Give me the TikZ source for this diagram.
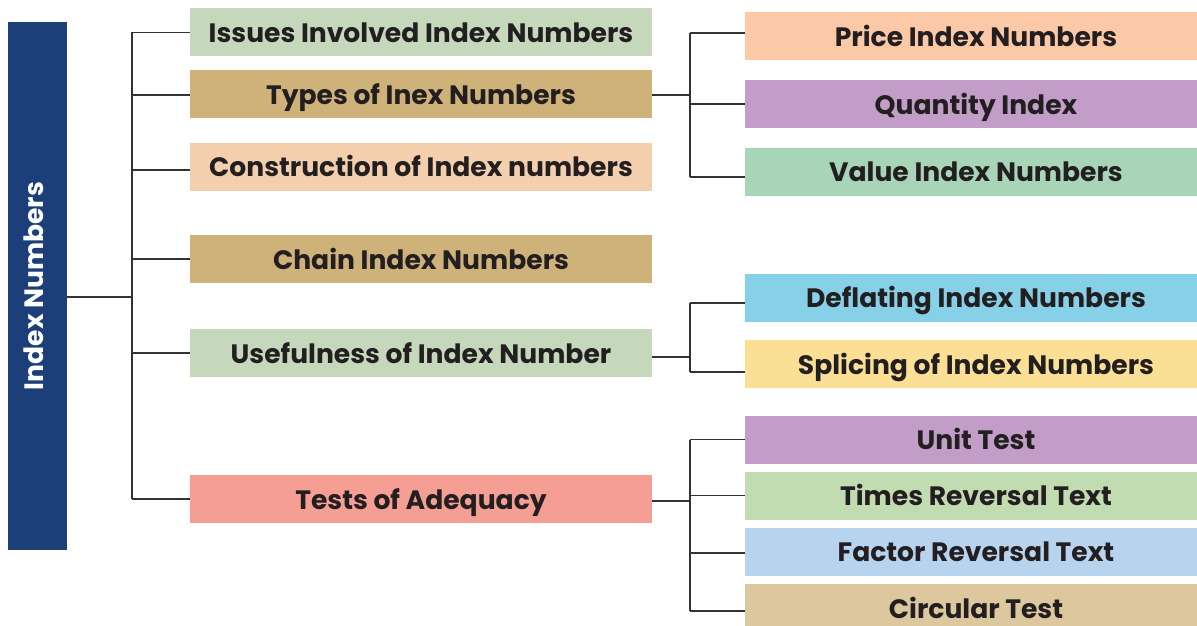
\documentclass[tikz,border=0pt]{standalone}
\usepackage{fontspec}
\setmainfont{Poppins}
\usetikzlibrary{positioning}

\definecolor{rootblue}{HTML}{1C3F7A}
\definecolor{txtdark}{HTML}{231F20}
\definecolor{linegrey}{HTML}{333333}
\definecolor{sage}{HTML}{C5D8BC}
\definecolor{tan}{HTML}{CEB27A}
\definecolor{peach}{HTML}{F3CFAE}
\definecolor{salmon}{HTML}{F59E93}
\definecolor{apricot}{HTML}{FBC8A8}
\definecolor{lilac}{HTML}{C29DC7}
\definecolor{mint}{HTML}{A8D4B8}
\definecolor{sky}{HTML}{86D0E8}
\definecolor{butter}{HTML}{FBDF95}
\definecolor{leafgreen}{HTML}{C2DCB2}
\definecolor{paleblue}{HTML}{B8D3EE}
\definecolor{sand}{HTML}{DCC79E}

\tikzset{
  topicbox/.style={minimum width=462pt, minimum height=48pt, inner sep=0pt,
    text height=20pt, text depth=0pt,
    text=txtdark, font=\fontsize{26.6}{30}\selectfont\bfseries},
  link/.style={draw=linegrey, line width=1.3pt}
}

\begin{document}
\begin{tikzpicture}[x=1pt,y=-1pt]
\useasboundingbox (0,0) rectangle (1197,626);

% root bar
\node[rotate=90, fill=rootblue, text=white, minimum width=528pt, minimum height=59pt,
  inner sep=0pt, text height=11pt, text depth=0pt,
  font=\fontsize{26.6}{30}\selectfont\bfseries] (root) at (37.5,286) {Index Numbers};

% second level
\node[topicbox, fill=sage] (issues) at (421,32.5) {Issues Involved Index Numbers};
\node[topicbox, fill=tan] (types) at (421,94) {Types of Inex Numbers};
\node[topicbox, fill=peach] (constr) at (421,166.5) {Construction of Index numbers};
\node[topicbox, fill=tan] (chain) at (421,259) {Chain Index Numbers};
\node[topicbox, fill=sage] (useful) at (421,353) {Usefulness of Index Number};
\node[topicbox, fill=salmon] (tests) at (421,499) {Tests of Adequacy};

% third level
\node[topicbox, fill=apricot] (price) at (976,36.5) {Price Index Numbers};
\node[topicbox, fill=lilac] (quantity) at (976,104) {Quantity Index};
\node[topicbox, fill=mint] (value) at (976,171.5) {Value Index Numbers};
\node[topicbox, fill=sky] (deflating) at (976,297.5) {Deflating Index Numbers};
\node[topicbox, fill=butter] (splicing) at (976,364) {Splicing of Index Numbers};
\node[topicbox, fill=lilac] (unit) at (976,439.5) {Unit Test};
\node[topicbox, fill=leafgreen] (times) at (976,495.5) {Times Reversal Text};
\node[topicbox, fill=paleblue] (factor) at (976,551.5) {Factor Reversal Text};
\node[topicbox, fill=sand] (circular) at (976,608) {Circular Test};

% bus lines
\coordinate (mainbus) at (132,297);
\coordinate (subbus) at (690,0);

\draw[link] (root.south |- mainbus) -- (mainbus);
\draw[link] (issues.west -| mainbus) -- (tests.west -| mainbus);
\foreach \n/\dy in {issues/0,types/-1,constr/-3.5,chain/0,useful/0,tests/0}
  \draw[link] ([yshift=\dy pt]\n.west) -- ([yshift=\dy pt]\n.west -| mainbus);

% types branch
\draw[link] ([yshift=-1pt]types.east) -- ([yshift=-1pt]types.east -| subbus);
\draw[link] ([yshift=3.5pt]price.west -| subbus) -- ([yshift=-5.5pt]value.west -| subbus);
\foreach \n/\dy in {price/3.5,quantity/0,value/-5.5}
  \draw[link] ([yshift=\dy pt]\n.west) -- ([yshift=\dy pt]\n.west -| subbus);

% usefulness branch
\draw[link] ([yshift=-4pt]useful.east) -- ([yshift=-4pt]useful.east -| subbus);
\draw[link] ([yshift=-5.5pt]deflating.west -| subbus) -- ([yshift=-8pt]splicing.west -| subbus);
\foreach \n/\dy in {deflating/-5.5,splicing/-8}
  \draw[link] ([yshift=\dy pt]\n.west) -- ([yshift=\dy pt]\n.west -| subbus);

% tests branch
\draw[link] ([yshift=-2pt]tests.east) -- ([yshift=-2pt]tests.east -| subbus);
\draw[link] (unit.west -| subbus) -- ([yshift=-3pt]circular.west -| subbus);
\foreach \n/\dy in {unit/0,times/0,factor/-1.5,circular/-3}
  \draw[link] ([yshift=\dy pt]\n.west) -- ([yshift=\dy pt]\n.west -| subbus);
\end{tikzpicture}
\end{document}
